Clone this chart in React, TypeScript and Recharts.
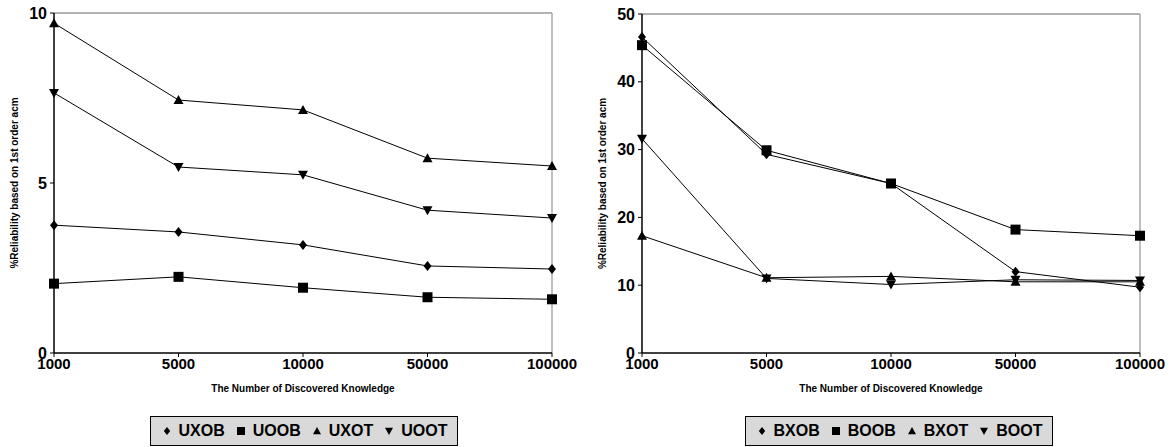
import React from "react";
import {
  LineChart,
  Line,
  XAxis,
  YAxis,
  ReferenceLine,
} from "recharts";

const categories = ["1000", "5000", "10000", "50000", "100000"];

// left chart (U*)
const uxob = [3.76, 3.56, 3.18, 2.56, 2.47];
const uoob = [2.04, 2.24, 1.92, 1.64, 1.58];
const uxot = [9.7, 7.44, 7.15, 5.73, 5.5];
const uoot = [7.65, 5.47, 5.24, 4.2, 3.97];

// right chart (B*)
const bxob = [46.6, 29.3, 25, 12, 9.7];
const boob = [45.4, 29.9, 25, 18.2, 17.3];
const bxot = [17.3, 11.1, 11.3, 10.5, 10.5];
const boot = [31.6, 11.0, 10.1, 10.8, 10.7];

const leftTicks = [0, 5, 10];
const rightTicks = [0, 10, 20, 30, 40, 50];

const shapes = ["diamond", "square", "up", "down"];

const leftNames = ["UXOB", "UOOB", "UXOT", "UOOT"];
const rightNames = ["BXOB", "BOOB", "BXOT", "BOOT"];

const leftData = categories.map((c, i) => ({
  name: c,
  UXOB: uxob[i],
  UOOB: uoob[i],
  UXOT: uxot[i],
  UOOT: uoot[i],
}));

const rightData = categories.map((c, i) => ({
  name: c,
  BXOB: bxob[i],
  BOOB: boob[i],
  BXOT: bxot[i],
  BOOT: boot[i],
}));

const FONT = "Arial, 'Liberation Sans', sans-serif";

function markerPath(shape: string, cx: number, cy: number) {
  switch (shape) {
    case "diamond":
      return `M${cx},${cy - 5}L${cx + 4},${cy}L${cx},${cy + 5}L${cx - 4},${cy}Z`;
    case "square":
      return `M${cx - 5},${cy - 5}h10v10h-10Z`;
    case "up":
      return `M${cx},${cy - 5}L${cx + 5},${cy + 4}L${cx - 5},${cy + 4}Z`;
    default:
      return `M${cx - 5},${cy - 4}L${cx + 5},${cy - 4}L${cx},${cy + 5}Z`;
  }
}

const makeDot = (shape: string) => (p: any) => {
  if (p.cx == null || p.cy == null) return <g key={p.index} />;
  return <path key={p.index} d={markerPath(shape, p.cx, p.cy)} fill="#000" stroke="none" />;
};

function LegendIcon({ shape }: { shape: string }) {
  return (
    <svg width={12} height={12} style={{ marginRight: 6 }}>
      <path d={markerPath(shape, 6, 6)} fill="#000" transform="translate(6 6) scale(0.8) translate(-6 -6)" />
    </svg>
  );
}

function LegendBox({ names, left }: { names: string[]; left: number }) {
  return (
    <div
      style={{
        position: "absolute",
        left,
        top: 416,
        width: 306,
        height: 28,
        border: "1px solid #000",
        background: "#d9d9d9",
        display: "flex",
        alignItems: "center",
        justifyContent: "center",
        fontFamily: FONT,
        fontWeight: "bold",
        fontSize: 16,
        color: "#000",
        boxSizing: "content-box",
      }}
    >
      {names.map((n, i) => (
        <span key={n} style={{ display: "flex", alignItems: "center", marginRight: i < names.length - 1 ? 10 : 0 }}>
          <LegendIcon shape={shapes[i]} />
          {n}
        </span>
      ))}
    </div>
  );
}

const tickStyle = { fontSize: 15, fontWeight: "bold" as const, fill: "#000", fontFamily: FONT };
const yTickStyle = { fontSize: 16, fontWeight: "bold" as const, fill: "#000", fontFamily: FONT };
const labelStyle = { fontSize: 10, fontWeight: "bold" as const, fill: "#000", fontFamily: FONT, textAnchor: "middle" as const };

function Panel({
  data,
  names,
  ticks,
  top,
  width,
  right,
}: {
  data: any[];
  names: string[];
  ticks: number[];
  top: number;
  width: number;
  right: number;
}) {
  const max = ticks[ticks.length - 1];
  return (
    <LineChart width={width} height={420} data={data} margin={{ top, right, bottom: 0, left: 0 }}>
      <ReferenceLine y={max} stroke="#999" strokeWidth={1.5} />
      <ReferenceLine x={categories[categories.length - 1]} stroke="#aaa" strokeWidth={1.5} />
      <XAxis
        dataKey="name"
        interval={0}
        padding={{ left: 0, right: 0 }}
        height={420 - 353}
        tickSize={4}
        tickMargin={1}
        tick={tickStyle}
        axisLine={{ stroke: "#000", strokeWidth: 1.5 }}
        tickLine={{ stroke: "#000" }}
        label={{ value: "The Number of Discovered Knowledge", position: "insideTop", offset: 32, style: labelStyle }}
      />
      <YAxis
        width={54}
        domain={[0, max]}
        ticks={ticks}
        interval={0}
        tickSize={4}
        tickMargin={3}
        tick={yTickStyle}
        axisLine={{ stroke: "#000", strokeWidth: 1.5 }}
        tickLine={{ stroke: "#000" }}
        label={{
          value: "%Reliability based on 1st order acm",
          angle: -90,
          position: "insideLeft",
          offset: 14,
          style: labelStyle,
        }}
      />
      {names.map((n, i) => (
        <Line
          key={n}
          dataKey={n}
          type="linear"
          stroke="#000"
          strokeWidth={1}
          dot={makeDot(shapes[i])}
          activeDot={false}
          isAnimationActive={false}
        />
      ))}
    </LineChart>
  );
}

export default function App() {
  return (
    <div
      style={{
        position: "absolute",
        left: 0,
        top: 0,
        width: 1175,
        height: 447,
        background: "#fff",
        fontFamily: FONT,
        overflow: "hidden",
      }}
    >
      <div style={{ position: "absolute", left: 0, top: 0 }}>
        <Panel data={leftData} names={leftNames} ticks={leftTicks} top={13} width={590} right={38} />
      </div>
      <div style={{ position: "absolute", left: 588, top: 0 }}>
        <Panel data={rightData} names={rightNames} ticks={rightTicks} top={14} width={587} right={35} />
      </div>
      <LegendBox names={leftNames} left={150} />
      <LegendBox names={rightNames} left={745} />
    </div>
  );
}
